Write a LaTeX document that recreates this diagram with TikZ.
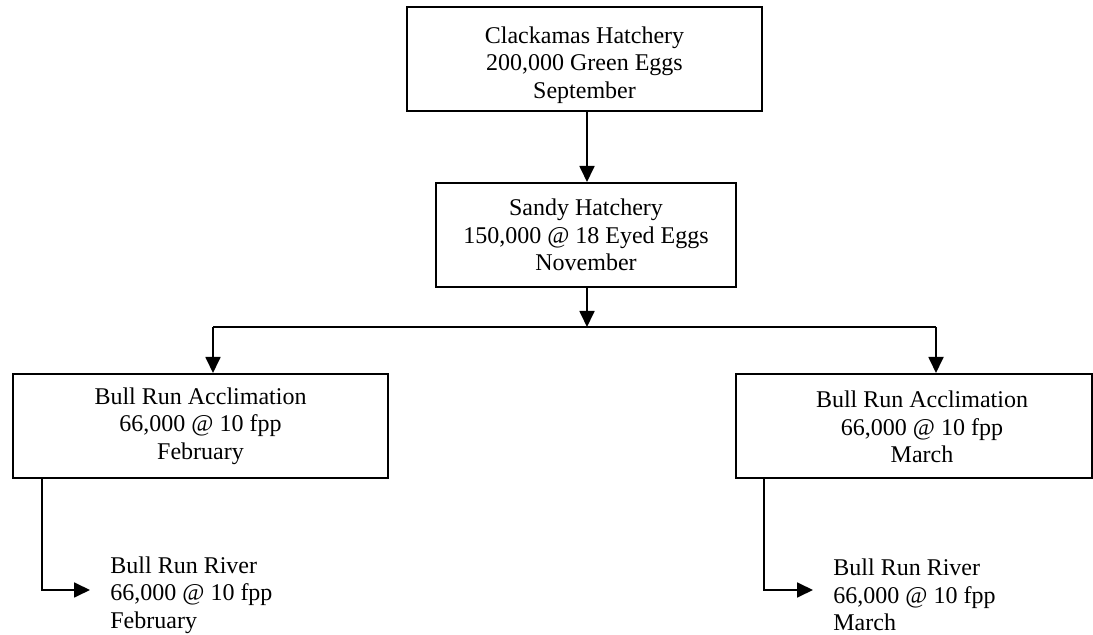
\documentclass[tikz,border=0pt]{standalone}
\usepackage{fontspec}
\setmainfont{Liberation Serif}
\usetikzlibrary{arrows.meta}
\begin{document}
\begin{tikzpicture}[x=0.5pt,y=-0.5pt,
  txt/.style={font=\fontsize{12}{13.8}\selectfont, align=center, inner sep=0pt},
  box/.style={draw, line width=1pt, minimum height=52pt, inner sep=0pt, font=\fontsize{12}{13.8}\selectfont, align=center},
  line/.style={line width=0.9pt},
  arr/.style={line width=0.9pt, -{Triangle[length=8pt,width=7.5pt]}},
  rivertxt/.style={font=\fontsize{12}{13.8}\selectfont, align=left, anchor=west, inner sep=0pt}]
\useasboundingbox (0,0) rectangle (1093,635);

% boxes
\node[box, line width=1.4pt, minimum width=177.5pt] (clack) at (584.5,59) {};
\node[txt] (clacktxt) at (584.5,65) {Clackamas Hatchery\\200,000 Green Eggs\\September};

\node[box, minimum width=150pt] (sandy) at (586,235) {Sandy Hatchery\\150,000 @ 18 Eyed Eggs\\November};
\node[box, minimum width=187.5pt] (laccl) at (200.5,426) {Bull Run Acclimation\\66,000 @ 10 fpp\\February};

\node[box, minimum width=178pt] (raccl) at (914,426) {};
\node[txt] (raccltxt) at (922,427) {Bull Run Acclimation\\66,000 @ 10 fpp\\March};

% river texts
\node[rivertxt] (lriver) at (110,595) {Bull Run River\\66,000 @ 10 fpp\\February};
\node[rivertxt] (rriver) at (833,595) {Bull Run River\\66,000 @ 10 fpp\\March};

% connectors
\coordinate (lsplit) at (213,327);
\coordinate (rsplit) at (936,327);
\coordinate (mid) at (587,327);

\draw[arr] (clack.south -| mid) -- (sandy.north -| mid);
\draw[arr] (sandy.south -| mid) -- (mid);
\draw[line] (lsplit) -- (rsplit);
\draw[arr] (lsplit) -- (lsplit |- laccl.north);
\draw[arr] (rsplit) -- (rsplit |- raccl.north);

\coordinate (lout) at (42,478);
\coordinate (rout) at (764,478);
\draw[arr] (lout) |- ([xshift=-10pt,yshift=2.5pt]lriver.west);
\draw[arr] (rout) |- ([xshift=-10pt,yshift=2.5pt]rriver.west);
\end{tikzpicture}
\end{document}
